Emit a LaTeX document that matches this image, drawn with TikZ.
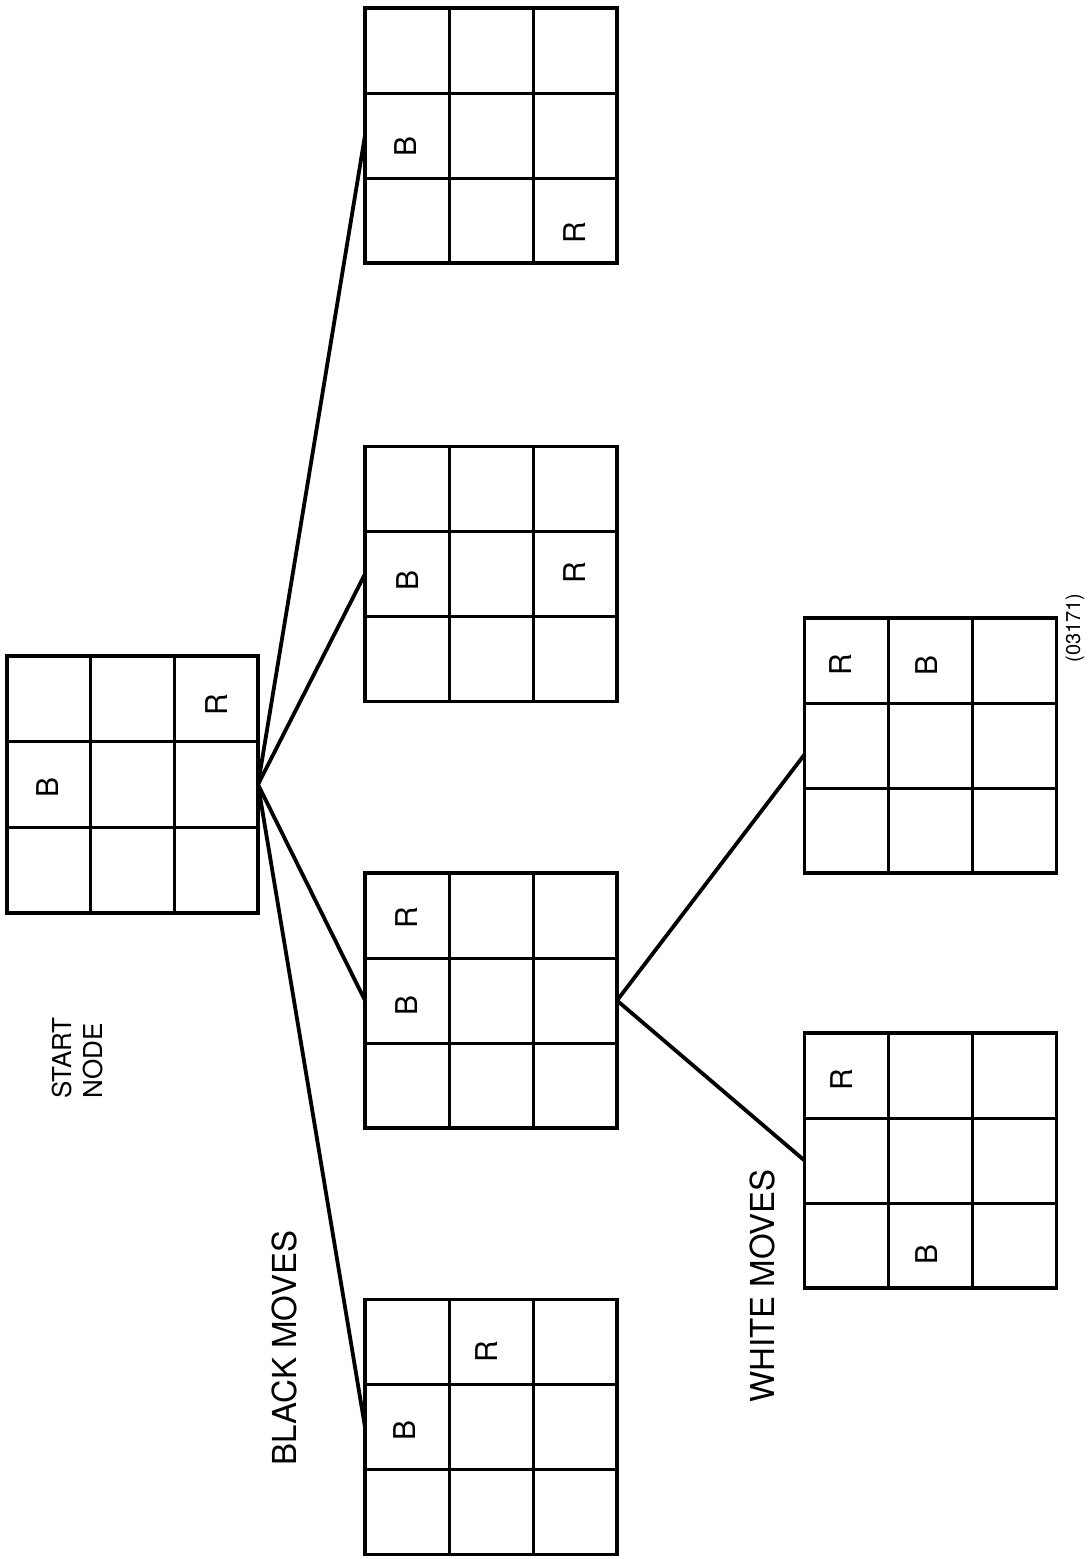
\documentclass[tikz,border=0pt]{standalone}
\usepackage{fontspec}
\setmainfont{TeX Gyre Heros}
\usetikzlibrary{calc}
\tikzset{
  board/.style={draw, line width=3.4pt, minimum width=252pt, minimum height=255pt, inner sep=0pt, outer sep=0pt},
  gridline/.style={line width=3pt},
  conn/.style={line width=3.8pt},
  piece/.style={rotate=90, font=\fontsize{30}{30}\selectfont, inner sep=0pt},
  txt/.style={rotate=90, font=\fontsize{33}{36}\selectfont, inner sep=0pt},
}
\newcommand\boardgrid[1]{%
  \draw[gridline] ($(#1.north west)!1/3!(#1.north east)$) -- ($(#1.south west)!1/3!(#1.south east)$);
  \draw[gridline] ($(#1.north west)!2/3!(#1.north east)$) -- ($(#1.south west)!2/3!(#1.south east)$);
  \draw[gridline] ($(#1.north west)!1/3!(#1.south west)$) -- ($(#1.north east)!1/3!(#1.south east)$);
  \draw[gridline] ($(#1.north west)!2/3!(#1.south west)$) -- ($(#1.north east)!2/3!(#1.south east)$);
}
\begin{document}
\begin{tikzpicture}[x=1pt, y=-1pt]
\useasboundingbox (0,0) rectangle (1088,1559);
% boards
\node[board, minimum width=251pt, minimum height=257pt] (s) at (132.5,784.5) {};
\node[board] (g1) at (491,135.5) {};
\node[board] (g2) at (491,574) {};
\node[board] (g3) at (491,1000.5) {};
\node[board] (g4) at (491,1427) {};
\node[board] (g5) at (930.5,1160.5) {};
\node[board] (g6) at (930.5,745.5) {};
\boardgrid{s}
\boardgrid{g1}
\boardgrid{g2}
\boardgrid{g3}
\boardgrid{g4}
\boardgrid{g5}
\boardgrid{g6}
% pieces
\node[piece] (sB) at (48,787) {B};
\node[piece] (sR) at (217,705) {R};
\node[piece] (g1B) at (406,146) {B};
\node[piece] (g1R) at (575,233) {R};
\node[piece] (g2B) at (408,580) {B};
\node[piece] (g2R) at (575,573) {R};
\node[piece] (g3R) at (407,918) {R};
\node[piece] (g3B) at (407,1005) {B};
\node[piece] (g4R) at (487,1352) {R};
\node[piece] (g4B) at (405,1430) {B};
\node[piece] (g5R) at (842,1080) {R};
\node[piece] (g5B) at (927,1254) {B};
\node[piece] (g6R) at (841,665) {R};
\node[piece] (g6B) at (927,665) {B};
% connectors
\draw[conn] (s.east) -- (g1.west);
\draw[conn] (s.east) -- (g2.west);
\draw[conn] (s.east) -- (g3.west);
\draw[conn] (s.east) -- (g4.west);
\draw[conn] (g3.east) -- ($(g6.west)+(0,9)$);
\draw[conn] (g3.east) -- (g5.west);
% labels
\node[txt, align=left, font=\fontsize{26}{31}\selectfont] (start) at (78,1058) {START\\NODE};
\node[txt] (black) at (284,1348) {BLACK MOVES};
\node[txt] (white) at (762,1286) {WHITE MOVES};
\node[txt, font=\fontsize{20}{22}\selectfont] (fig) at (1075,628) {(03171)};
\end{tikzpicture}
\end{document}
